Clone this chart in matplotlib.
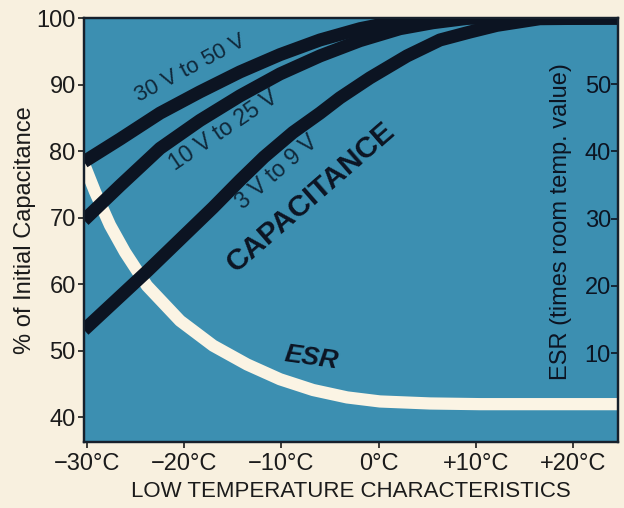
import matplotlib
matplotlib.use("Agg")
import matplotlib.pyplot as plt

plt.rcParams['font.family'] = ['Liberation Sans', 'DejaVu Sans']

# ---- data ----
temps_30_50 = [-30.31, -26.60, -22.49, -18.38, -14.26, -10.14, -6.03, -1.91,
               2.20, 6.31, 24.63]
cap_30_50 = [78.4, 81.8, 85.7, 88.9, 91.9, 94.5, 96.7, 98.4,
             99.6, 100.0, 100.0]

temps_10_25 = [-30.31, -26.60, -22.49, -18.38, -14.26, -10.14, -6.03, -1.91,
               2.20, 5.60, 9.40, 24.63]
cap_10_25 = [69.6, 74.8, 80.4, 84.6, 88.3, 91.6, 94.3, 96.6,
             98.4, 99.3, 100.0, 100.0]

temps_3_9 = [-30.31, -23.83, -17.03, -14.26, -11.79, -8.81, -6.03, -3.98,
             -0.89, 2.92, 6.31, 9.40, 12.17, 16.59, 24.63]
cap_3_9 = [53.1, 61.9, 71.5, 75.6, 79.1, 82.8, 85.7, 88.0,
           91.0, 94.3, 96.7, 97.9, 98.9, 99.9, 100.0]

temps_esr = [-30.31, -29.18, -27.63, -26.09, -23.83, -20.43, -17.03, -13.53,
             -10.14, -6.74, -3.24, 0.14, 5.29, 10.43, 24.63]
esr = [38.1, 34.0, 29.0, 25.0, 20.0, 14.8, 11.1, 8.3,
       6.1, 4.5, 3.4, 2.8, 2.5, 2.4, 2.4]

x_ticks = [-30, -20, -10, 0, 10, 20]
x_tick_labels = ['\u221230\u00b0C', '\u221220\u00b0C', '\u221210\u00b0C',
                 '0\u00b0C', '+10\u00b0C', '+20\u00b0C']
cap_ticks = [40, 50, 60, 70, 80, 90, 100]
esr_ticks = [10, 20, 30, 40, 50]

# ---- styling ----
paper = '#f8f0df'
panel = '#3c8fb1'
ink = '#0c1422'
cream = '#fbf4e4'
label_ink = '#10283a'

fig = plt.figure(figsize=(6.24, 5.08), dpi=100, facecolor=paper)
ax = fig.add_axes([0.1346, 0.1299, 0.8558, 0.8346])
ax2 = ax.twinx()

# ESR axis behind, capacitance axis in front
ax2.set_zorder(1)
ax.set_zorder(2)
ax.patch.set_visible(False)
ax2.patch.set_visible(True)
ax2.set_facecolor(panel)

ax.set_xlim(-30.31, 24.63)
ax.set_ylim(36.25, 99.9)
ax2.set_ylim(-3.23, 59.81)

ax2.plot(temps_esr, esr, color=cream, lw=8.8, solid_capstyle='butt',
         solid_joinstyle='round')

for t, c in [(temps_30_50, cap_30_50), (temps_10_25, cap_10_25), (temps_3_9, cap_3_9)]:
    ax.plot(t, c, color=ink, lw=9.4, solid_capstyle='butt', solid_joinstyle='round')

# ticks
ax.set_xticks(x_ticks)
ax.set_xticklabels(x_tick_labels)
ax.set_yticks(cap_ticks)
ax.tick_params(axis='both', labelsize=17, colors='#1b1b1b', length=4, width=1.2, pad=2)
ax.tick_params(axis='x', pad=4)

ax2.set_yticks(esr_ticks)
ax2.tick_params(axis='y', direction='in', length=5, width=1.2, pad=-24,
                labelsize=17, colors=ink)
for lbl in ax2.get_yticklabels():
    lbl.set_horizontalalignment('left')

for sp in list(ax.spines.values()) + list(ax2.spines.values()):
    sp.set_color('#16202c')
    sp.set_linewidth(1.6)

ax.set_ylabel('% of Initial Capacitance', fontsize=17, color='#1b1b1b', labelpad=0.5)
ax.set_xlabel('LOW TEMPERATURE CHARACTERISTICS', fontsize=16, color='#1b1b1b', labelpad=4)

ax2.set_ylabel('ESR (times room temp. value)', fontsize=17, color=ink)
ax2.yaxis.set_label_coords(0.872, 0.519)

# in-chart annotations
ax.text(0.200, 0.882, '30 V to 50 V', transform=ax.transAxes, fontsize=16,
        color=label_ink, rotation=28, ha='center', va='center', rotation_mode='anchor')
ax.text(0.262, 0.736, '10 V to 25 V', transform=ax.transAxes, fontsize=16.5,
        color=label_ink, rotation=34, ha='center', va='center', rotation_mode='anchor')
ax.text(0.360, 0.637, '3 V to 9 V', transform=ax.transAxes, fontsize=16.5,
        color=label_ink, rotation=41, ha='center', va='center', rotation_mode='anchor')
ax.text(0.424, 0.578, 'CAPACITANCE', transform=ax.transAxes, fontsize=21.5,
        fontweight='bold', color=ink, rotation=41, ha='center', va='center',
        rotation_mode='anchor')
ax.text(0.425, 0.198, 'ESR', transform=ax.transAxes, fontsize=19,
        fontweight='bold', fontstyle='italic', color=ink, rotation=-8,
        ha='center', va='center', rotation_mode='anchor')

fig.savefig('out.png', dpi=100, facecolor=paper)
